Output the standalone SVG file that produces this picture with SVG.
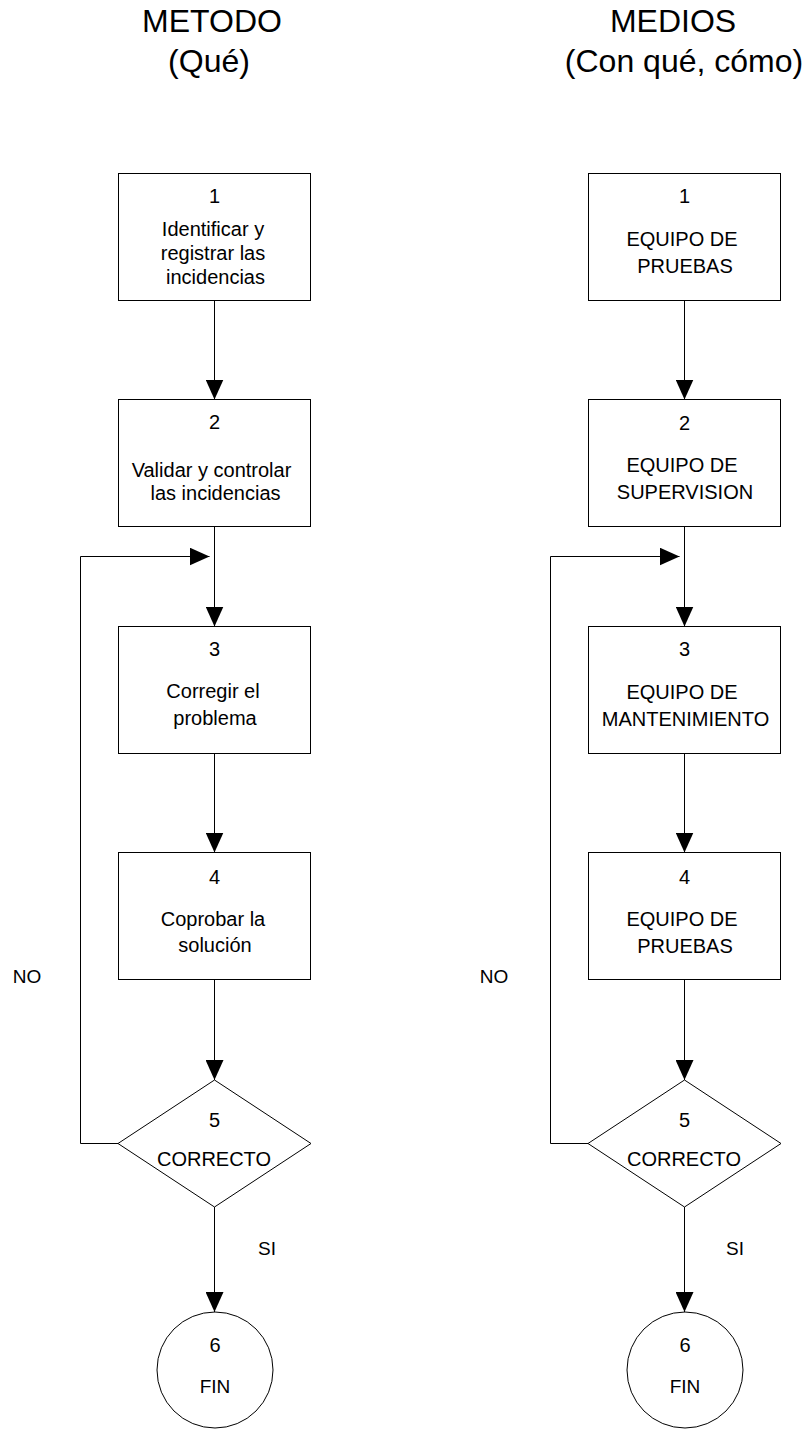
<svg xmlns="http://www.w3.org/2000/svg" width="808" height="1429" viewBox="0 0 808 1429">
  <style>
    text { font-family: "Liberation Sans", Arial, sans-serif; fill: #000; text-anchor: middle; }
    .hdr { font-size: 32px; }
    .num { font-size: 20px; }
    .lbl { font-size: 20px; }
    .side { font-size: 19px; }
    .shape { fill: #fff; stroke: #000; stroke-width: 1; }
    .conn { fill: none; stroke: #000; stroke-width: 1; }
  </style>
  <defs>
    <marker id="arrow" viewBox="0 0 20 18" refX="20" refY="9" markerWidth="20" markerHeight="18" markerUnits="userSpaceOnUse" orient="auto">
      <path d="M0,0 L20,9 L0,18 Z" fill="#000"/>
    </marker>
  </defs>
  <rect width="808" height="1429" fill="#fff"/>

  <!-- column headers -->
  <g id="header-metodo">
    <text class="hdr" x="212" y="32">METODO</text>
    <text class="hdr" x="209" y="72">(Qué)</text>
  </g>
  <g id="header-medios">
    <text class="hdr" x="673" y="32">MEDIOS</text>
    <text class="hdr" x="684" y="72">(Con qué, cómo)</text>
  </g>

  <!-- connectors -->
  <g id="connectors">
    <path class="conn" d="M214.5,300.5 V399.5" marker-end="url(#arrow)"/>
    <path class="conn" d="M214.5,526.5 V626.5" marker-end="url(#arrow)"/>
    <path class="conn" d="M214.5,753.5 V852.5" marker-end="url(#arrow)"/>
    <path class="conn" d="M214.5,979.5 V1080" marker-end="url(#arrow)"/>
    <path class="conn" d="M214.5,1207 V1312" marker-end="url(#arrow)"/>
    <path class="conn" d="M118,1143.5 H80.5 V556.5 H209.5" marker-end="url(#arrow)"/>

    <path class="conn" d="M684.5,300.5 V399.5" marker-end="url(#arrow)"/>
    <path class="conn" d="M684.5,526.5 V626.5" marker-end="url(#arrow)"/>
    <path class="conn" d="M684.5,753.5 V852.5" marker-end="url(#arrow)"/>
    <path class="conn" d="M684.5,979.5 V1080" marker-end="url(#arrow)"/>
    <path class="conn" d="M684.5,1207 V1312" marker-end="url(#arrow)"/>
    <path class="conn" d="M588,1143.5 H550.5 V556.5 H679.5" marker-end="url(#arrow)"/>
  </g>

  <!-- METODO column -->
  <g id="m1">
    <rect class="shape" x="118.5" y="173.5" width="192" height="127"/>
    <text class="num" x="214.5" y="203">1</text>
    <text class="lbl" x="213" y="236">Identificar y</text>
    <text class="lbl" x="213" y="260">registrar las</text>
    <text class="lbl" x="215.5" y="284">incidencias</text>
  </g>
  <g id="m2">
    <rect class="shape" x="118.5" y="399.5" width="192" height="127"/>
    <text class="num" x="214.5" y="429">2</text>
    <text class="lbl" x="211.5" y="477">Validar y controlar</text>
    <text class="lbl" x="215.5" y="500">las incidencias</text>
  </g>
  <g id="m3">
    <rect class="shape" x="118.5" y="626.5" width="192" height="127"/>
    <text class="num" x="214.5" y="656">3</text>
    <text class="lbl" x="213" y="698">Corregir el</text>
    <text class="lbl" x="215" y="725">problema</text>
  </g>
  <g id="m4">
    <rect class="shape" x="118.5" y="852.5" width="192" height="127"/>
    <text class="num" x="214.5" y="884">4</text>
    <text class="lbl" x="213" y="926">Coprobar la</text>
    <text class="lbl" x="215" y="952">solución</text>
  </g>
  <g id="m5">
    <polygon class="shape" points="214.5,1080 311,1143.5 214.5,1207 118,1143.5"/>
    <text class="num" x="214.5" y="1127">5</text>
    <text class="lbl" x="214" y="1166">CORRECTO</text>
  </g>
  <g id="m6">
    <circle class="shape" cx="215" cy="1370" r="58"/>
    <text class="num" x="215" y="1352">6</text>
    <text class="side" x="215" y="1393">FIN</text>
  </g>
  <g id="m-labels">
    <text class="side" x="27" y="983">NO</text>
    <text class="side" x="267" y="1255">SI</text>
  </g>

  <!-- MEDIOS column -->
  <g id="r1">
    <rect class="shape" x="588.5" y="173.5" width="192" height="127"/>
    <text class="num" x="684.5" y="203">1</text>
    <text class="lbl" x="682" y="246">EQUIPO DE</text>
    <text class="lbl" x="685" y="273">PRUEBAS</text>
  </g>
  <g id="r2">
    <rect class="shape" x="588.5" y="399.5" width="192" height="127"/>
    <text class="num" x="684.5" y="430">2</text>
    <text class="lbl" x="682" y="472">EQUIPO DE</text>
    <text class="lbl" x="685" y="499">SUPERVISION</text>
  </g>
  <g id="r3">
    <rect class="shape" x="588.5" y="626.5" width="192" height="127"/>
    <text class="num" x="684.5" y="656">3</text>
    <text class="lbl" x="682" y="699">EQUIPO DE</text>
    <text class="lbl" x="685.5" y="726">MANTENIMIENTO</text>
  </g>
  <g id="r4">
    <rect class="shape" x="588.5" y="852.5" width="192" height="127"/>
    <text class="num" x="684.5" y="884">4</text>
    <text class="lbl" x="682" y="926">EQUIPO DE</text>
    <text class="lbl" x="685" y="953">PRUEBAS</text>
  </g>
  <g id="r5">
    <polygon class="shape" points="684.5,1080 781,1143.5 684.5,1207 588,1143.5"/>
    <text class="num" x="684.5" y="1127">5</text>
    <text class="lbl" x="684" y="1166">CORRECTO</text>
  </g>
  <g id="r6">
    <circle class="shape" cx="685" cy="1370" r="58"/>
    <text class="num" x="685" y="1352">6</text>
    <text class="side" x="685" y="1393">FIN</text>
  </g>
  <g id="r-labels">
    <text class="side" x="494" y="983">NO</text>
    <text class="side" x="735" y="1255">SI</text>
  </g>
</svg>
